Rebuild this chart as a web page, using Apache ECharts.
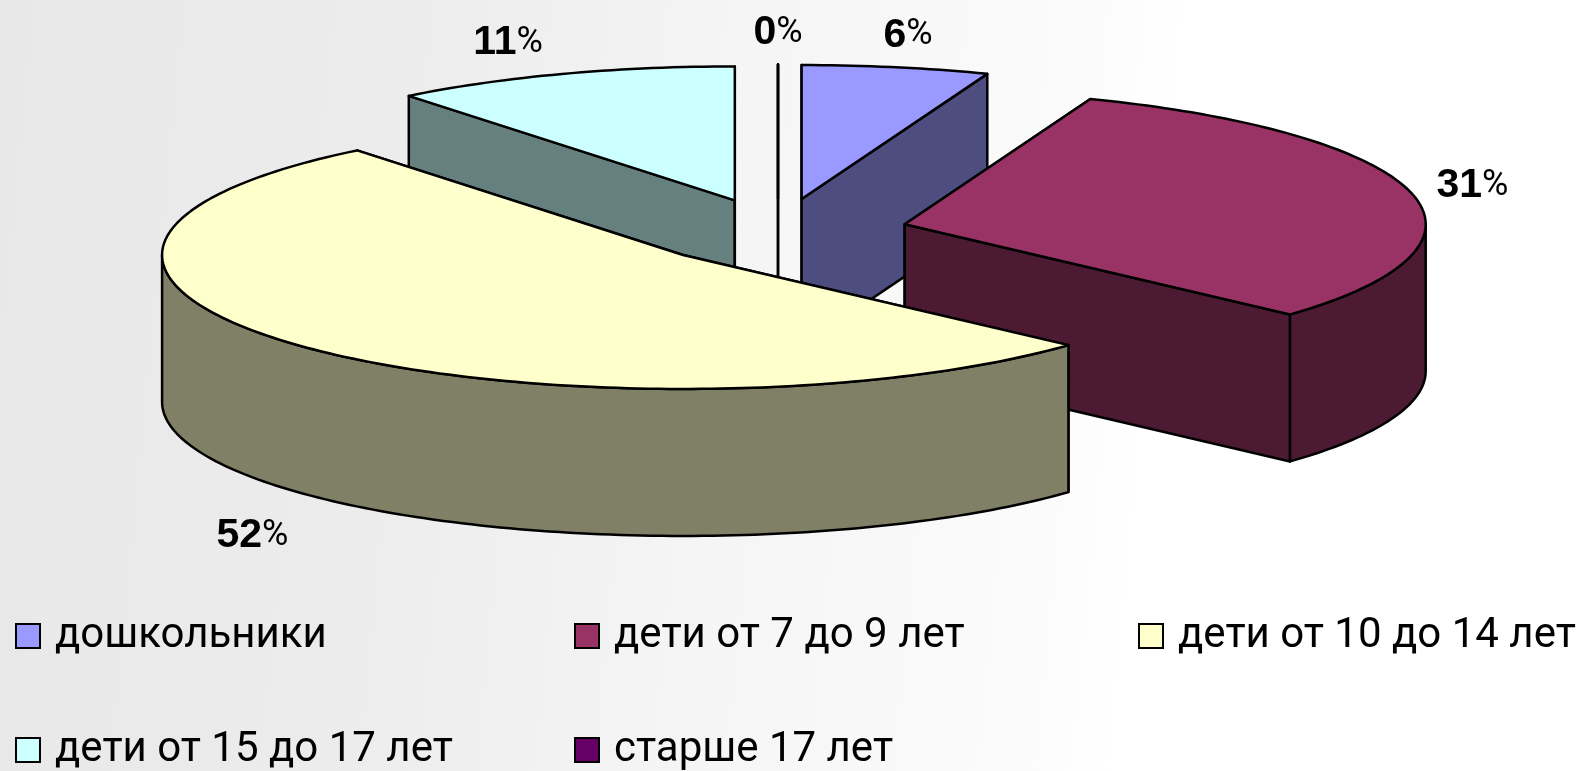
<!DOCTYPE html>
<html>
<head>
<meta charset="utf-8">
<script src="https://cdn.jsdelivr.net/npm/echarts@6/dist/echarts.min.js"></script>
<style>html,body{margin:0;padding:0;background:#fff}#c{width:1587px;height:771px}</style>
</head>
<body>
<div id="c"></div>
<script>
const categories = ['дошкольники', 'дети от 7 до 9 лет', 'дети от 10 до 14 лет', 'дети от 15 до 17 лет', 'старше 17 лет'];
const shares = [5.8, 30.95, 52.49, 10.76, 0];
const topColors = ['#9999FF', '#993366', '#FFFFCC', '#CCFFFF', '#660066'];
const sideColors = ['#4D4D80', '#4D1A33', '#808066', '#668080', '#330033'];
const stacking = [1, 4, 5, 2, 3];
const labelNudges = [[12, -32], [61, -7], [-51, 42], [-54, -31], [0, -32]];
const legendLefts = [15, 574, 1138, 15, 574];
const legendTops = [615, 615, 615, 729, 729];

const PIE = { cx: 778, cy: 232, rx: 521, ry: 134, depth: 147, explode: 0.25 };
const total = shares.reduce((a, b) => a + b, 0);
const starts = shares.map((_, i) => shares.slice(0, i).reduce((a, b) => a + b, 0) / total * Math.PI * 2);
const ends = starts.map((s, i) => s + shares[i] / total * Math.PI * 2);

function renderSlice(params) {
  const i = params.seriesIndex;
  const a0 = starts[i], a1 = ends[i], mid = (a0 + a1) / 2;
  const cx = PIE.cx + PIE.explode * PIE.rx * Math.sin(mid);
  const cy = PIE.cy - PIE.explode * PIE.ry * Math.cos(mid);
  const pt = (a, drop) => [cx + PIE.rx * Math.sin(a), cy - PIE.ry * Math.cos(a) + (drop || 0)];
  const arc = (from, to, drop) => {
    const n = Math.max(1, Math.ceil((to - from) / 0.02));
    const out = [];
    for (let k = 0; k <= n; k++) out.push(pt(from + (to - from) * k / n, drop));
    return out;
  };
  const stroke = { stroke: '#000', lineWidth: 2.5, lineJoin: 'round' };
  const kids = [];
  const radial = a => ({
    type: 'polygon',
    shape: { points: [[cx, cy], pt(a), pt(a, PIE.depth), [cx, cy + PIE.depth]] },
    style: Object.assign({ fill: sideColors[i] }, stroke)
  });
  kids.push(radial(a0), radial(a1));
  const f0 = Math.max(a0, Math.PI / 2), f1 = Math.min(a1, Math.PI * 1.5);
  if (f1 > f0) {
    kids.push({
      type: 'polygon',
      shape: { points: arc(f0, f1, 0).concat(arc(f0, f1, PIE.depth).reverse()) },
      style: Object.assign({ fill: sideColors[i] }, stroke)
    });
  }
  kids.push({
    type: 'polygon',
    shape: { points: [[cx, cy]].concat(arc(a0, a1, 0)) },
    style: Object.assign({ fill: topColors[i] }, stroke)
  });
  const anchor = pt(mid, Math.cos(mid) < 0 ? PIE.depth : 0);
  kids.push({
    type: 'text',
    style: {
      x: anchor[0] + labelNudges[i][0],
      y: anchor[1] + labelNudges[i][1],
      text: '{n|' + Math.round(shares[i]) + '}{p|%}',
      align: 'center',
      verticalAlign: 'middle',
      rich: {
        n: { fontFamily: 'Liberation Sans', fontWeight: 'bold', fontSize: 41, color: '#000' },
        p: { fontFamily: 'Roboto', fontSize: 36, color: '#000' }
      }
    }
  });
  return { type: 'group', children: kids };
}

const legendText = { fontFamily: 'Roboto', fontSize: 42, color: '#000', padding: [12, 0, 0, 10] };
const chart = echarts.init(document.getElementById('c'));
chart.setOption({
  animation: false,
  backgroundColor: {
    type: 'linear', x: 0, y: 0, x2: 1, y2: 0.2,
    colorStops: [
      { offset: 0, color: '#e8e8e8' }, { offset: 0.25, color: '#ececec' },
      { offset: 0.47, color: '#f5f5f5' }, { offset: 0.68, color: '#fbfbfb' }, { offset: 0.74, color: '#ffffff' }
    ]
  },
  legend: categories.map((name, i) => ({
    orient: 'horizontal', icon: 'rect', itemWidth: 24, itemHeight: 24, selectedMode: false,
    textStyle: legendText, itemStyle: { borderColor: '#000', borderWidth: 2 }, padding: 0,
    left: legendLefts[i], top: legendTops[i], data: [name]
  })),
  series: categories.map((name, i) => ({
    type: 'custom',
    name,
    coordinateSystem: 'none',
    z: stacking[i],
    itemStyle: { color: topColors[i] },
    renderItem: renderSlice,
    data: [shares[i]]
  }))
});
</script>
</body>
</html>
